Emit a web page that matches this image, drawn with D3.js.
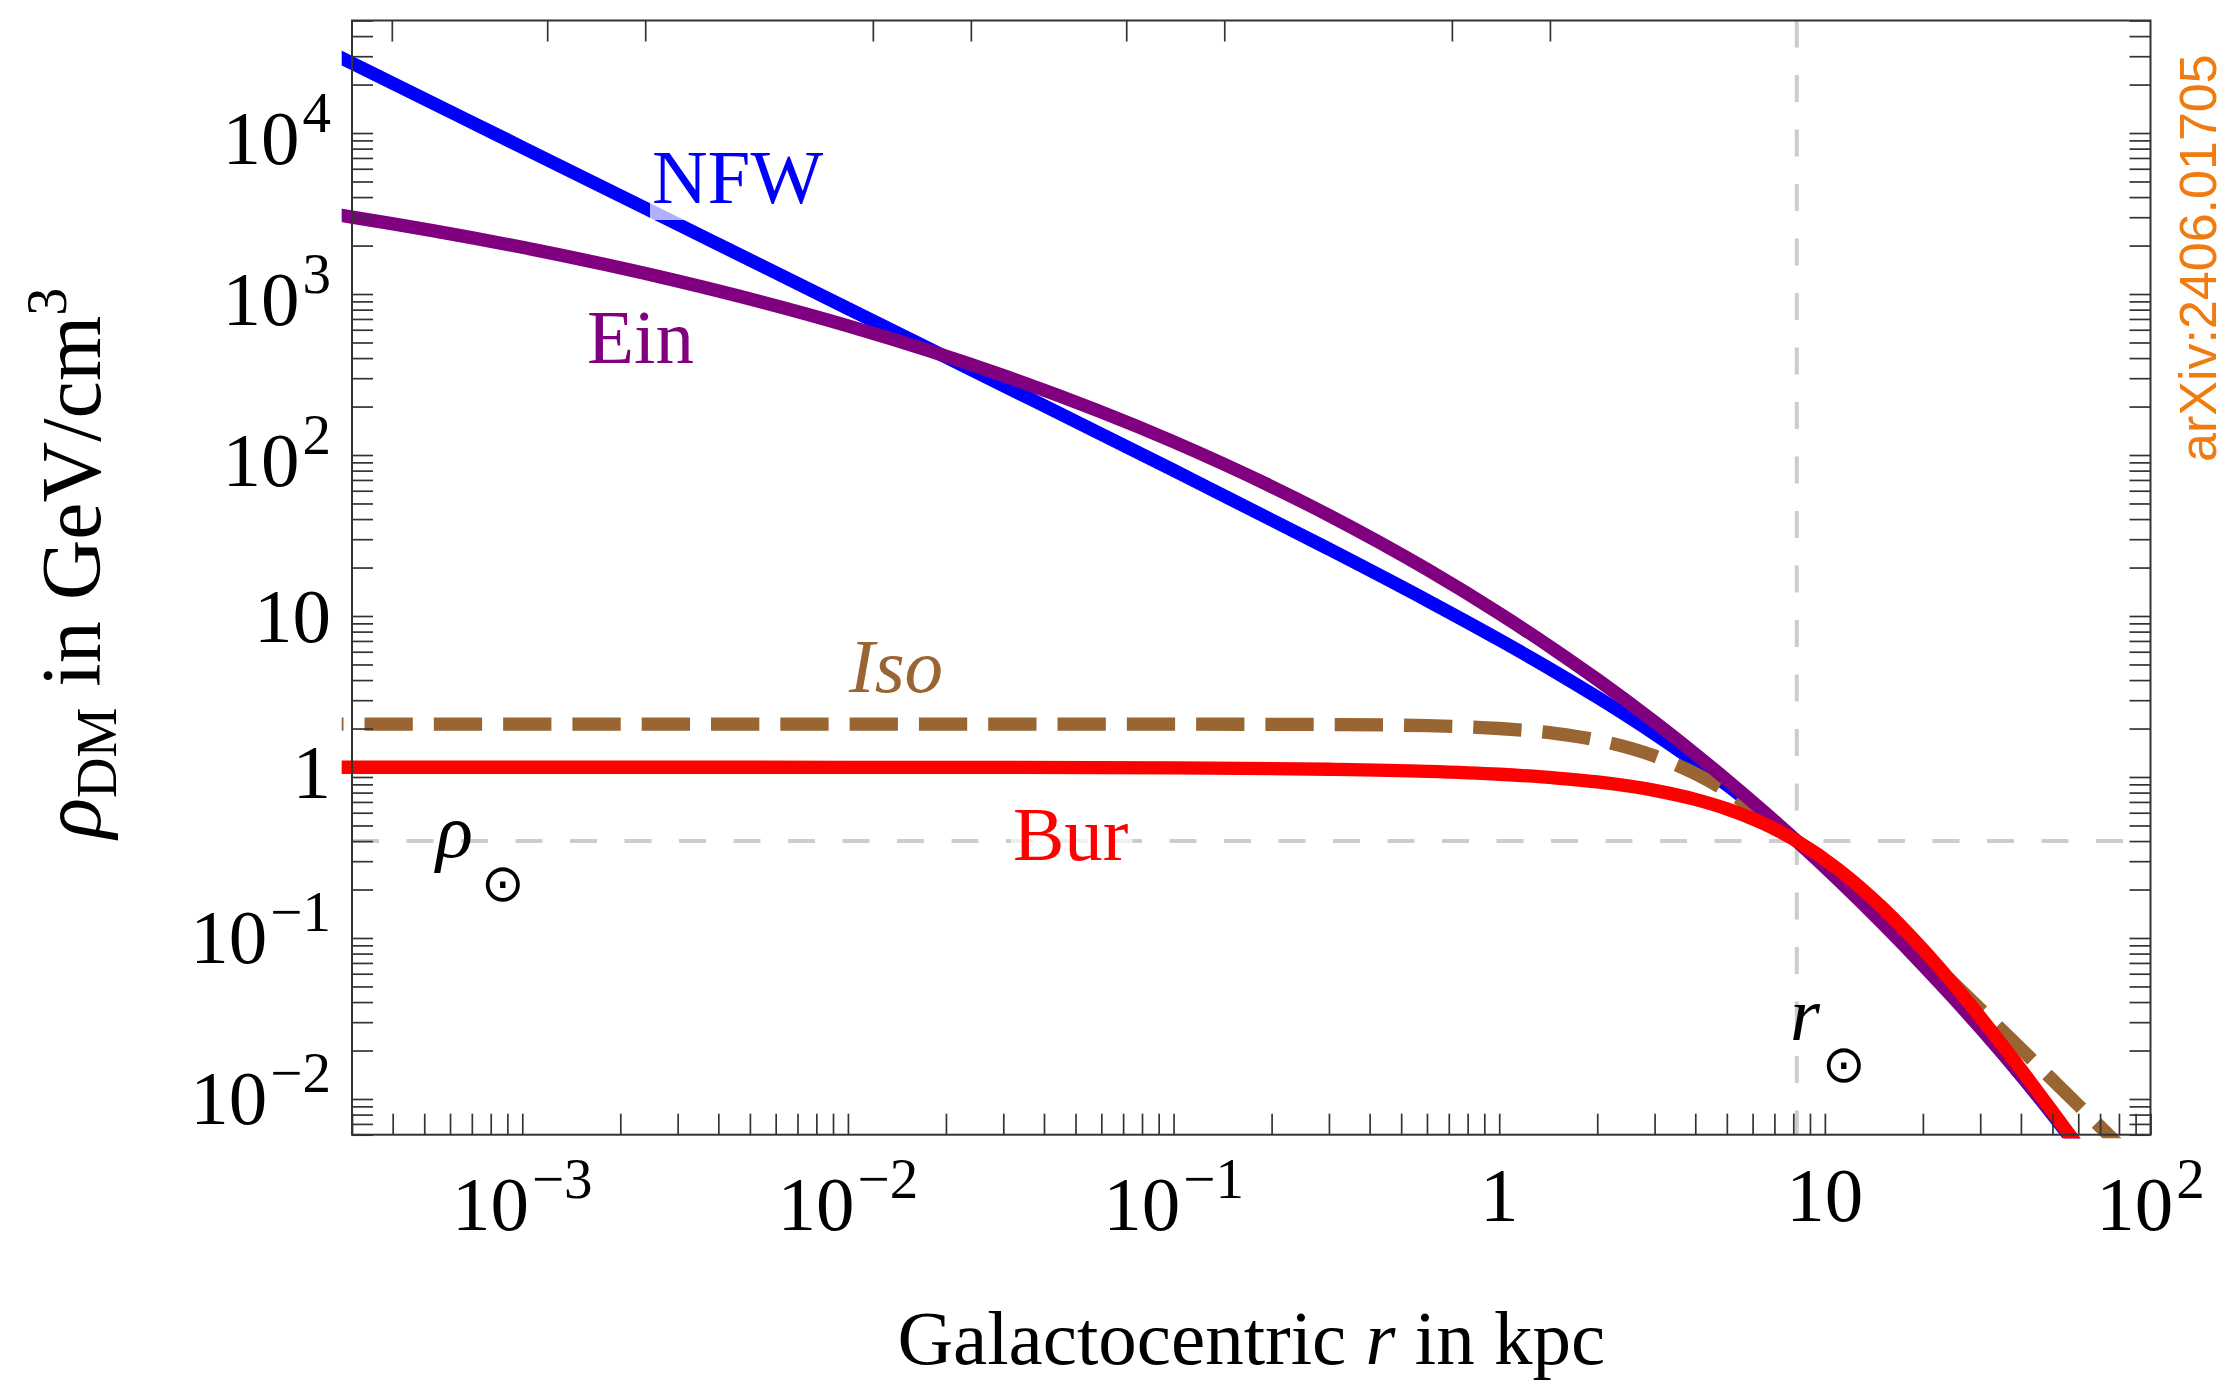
<!DOCTYPE html>
<html>
<head>
<meta charset="utf-8">
<script src="https://cdn.jsdelivr.net/npm/d3@7"></script>
<style>
  html, body { margin: 0; padding: 0; background: #ffffff; }
  svg { display: block; }
</style>
</head>
<body>
<svg id="chart" width="2230" height="1383"></svg>
<script>
// Galactocentric radius samples (kpc)
const radius = [2.5e-4, 3e-4, 1e-3, 3e-3, 0.01, 0.03, 0.1, 0.3, 0.6, 1, 1.5, 2, 3, 4, 5, 6.5, 8.2, 11, 15, 20, 25, 30, 40, 50, 60, 70, 80];

// Dark-matter density for each halo profile (GeV/cm^3)
const rhoNFW = [32600, 27170, 8149, 2716, 813.9, 270.5, 80.37, 26.06, 12.51, 7.115, 4.447, 3.133, 1.853, 1.242, 0.8926, 0.5908, 0.400, 0.2357, 0.1288, 0.07043, 0.04289, 0.02812, 0.01403, 0.0080, 0.00499, 0.00332, null];
const rhoEin = [3185, 3006, 1950, 1205, 635, 311.9, 120.9, 42.23, 19.52, 10.39, 6.051, 4.032, 2.193, 1.388, 0.958, 0.6083, 0.400, 0.2296, 0.1239, 0.06786, 0.0417, 0.02762, 0.01404, 0.008122, 0.005106, 0.00341, null];
const rhoIso = [2.13, 2.13, 2.13, 2.13, 2.13, 2.13, 2.129, 2.118, 2.082, 2.001, 1.861, 1.694, 1.349, 1.050, 0.8167, 0.573, 0.400, 0.2425, 0.1377, 0.07969, 0.0517, 0.03617, 0.0205, 0.01316, 0.00916, 0.00674, 0.00516];
const rhoBur = [1.15, 1.15, 1.15, 1.15, 1.149, 1.147, 1.139, 1.117, 1.084, 1.040, 0.9857, 0.9316, 0.8261, 0.7261, 0.6338, 0.5121, 0.400, 0.2666, 0.1549, 0.0850, 0.05065, 0.0323, 0.0153, 0.00836, 0.00505, 0.00327, null];

// Solar reference point
const rSun = 8.2;
const rhoSun = 0.4;

// Axis ranges and labelled ticks
const xDomain = [3e-4, 100];
const yDomain = [6e-3, 5e4];
const xTickValues = [1e-3, 1e-2, 1e-1, 1, 10, 100];
const xTickBase = ["10", "10", "10", "1", "10", "10"];
const xTickSup = ["\u22123", "\u22122", "\u22121", "", "", "2"];
const yTickValues = [1e-2, 1e-1, 1, 10, 100, 1e3, 1e4];
const yTickBase = ["10", "10", "1", "10", "10", "10", "10"];
const yTickSup = ["\u22122", "\u22121", "", "", "2", "3", "4"];

// Top frame ticks: angular size seen from the Sun, in degrees
const topTickDegrees = [10 / 3600, 30 / 3600, 1 / 60, 5 / 60, 10 / 60, 30 / 60, 1, 5, 10];

// Curve labels
const curveNames = ["NFW", "Ein", "Iso", "Bur"];
const curveColors = ["#0000ff", "#800080", "#996633", "#ff0000"];

// ---------------------------------------------------------------
const svg = d3.select("#chart");
const W = 2230, H = 1383;
const plot = { left: 352, right: 2150.5, top: 20.5, bottom: 1134.7 };

const x = d3.scaleLog().domain(xDomain).range([plot.left, plot.right]);
const y = d3.scaleLog().domain(yDomain).range([plot.bottom, plot.top]);

const serif = "'Liberation Serif', 'Times New Roman', Times, serif";
const FS = 77;      // main text size
const FSsup = 57;   // super/subscript size

svg.append("rect").attr("width", W).attr("height", H).attr("fill", "#ffffff");

// clip region for curves (slightly wider than the frame)
svg.append("defs").append("clipPath").attr("id", "plotClip")
  .append("rect")
  .attr("x", plot.left - 10.3).attr("y", plot.top - 10)
  .attr("width", plot.right - plot.left + 20).attr("height", plot.bottom - plot.top + 13.5);

// reference lines for the solar position
const refLine = d3.line().x(d => x(d[0])).y(d => y(d[1]));
svg.append("path")
  .attr("d", refLine([[xDomain[0], rhoSun], [xDomain[1], rhoSun]]))
  .attr("fill", "none").attr("stroke", "#cccccc").attr("stroke-width", 4)
  .attr("stroke-dasharray", "27 27.5");
svg.append("path")
  .attr("d", refLine([[rSun, yDomain[1]], [rSun, yDomain[0]]]))
  .attr("fill", "none").attr("stroke", "#cccccc").attr("stroke-width", 4)
  .attr("stroke-dasharray", "27 27.5");

// profile curves
const series = [
  { name: "NFW", values: rhoNFW, color: curveColors[0], dash: null },
  { name: "Iso", values: rhoIso, color: curveColors[2], dash: "48.3 21" },
  { name: "Ein", values: rhoEin, color: curveColors[1], dash: null },
  { name: "Bur", values: rhoBur, color: curveColors[3], dash: null }
];
const curve = d3.line()
  .defined(d => d.rho != null)
  .x(d => x(d.r)).y(d => y(d.rho))
  .curve(d3.curveMonotoneX);

const curveGroup = svg.append("g").attr("clip-path", "url(#plotClip)");
series.forEach(s => {
  const pts = radius.map((r, i) => ({ r: r, rho: s.values[i] }));
  const p = curveGroup.append("path")
    .attr("d", curve(pts))
    .attr("fill", "none")
    .attr("stroke", s.color)
    .attr("stroke-width", 13.3)
    .attr("stroke-linecap", "butt")
    .attr("stroke-linejoin", "round");
  if (s.dash) p.attr("stroke-dasharray", s.dash).attr("stroke-dashoffset", 31);
});

// frame ticks (all inward)
const minorTicks = (lo, hi) => {
  const out = [];
  for (let e = -4; e <= 5; e++) {
    for (let m = 1; m <= 9; m++) {
      const v = m * Math.pow(10, e);
      if (v >= lo * 0.9999 && v <= hi * 1.0001) out.push(v);
    }
  }
  return out;
};
const xTicksAll = minorTicks(xDomain[0], xDomain[1]);
const yTicksAll = minorTicks(yDomain[0], yDomain[1]);
const topTicks = topTickDegrees.map(d => rSun * d * Math.PI / 180);
const tickLen = 21;

function styleAxis(g) {
  g.select(".domain").remove();
  g.selectAll(".tick line").attr("stroke", "#333333").attr("stroke-width", 1.7);
  g.selectAll(".tick text").remove();
}
svg.append("g").attr("transform", `translate(0,${plot.bottom})`)
  .call(d3.axisBottom(x).tickValues(xTicksAll).tickSize(-tickLen).tickFormat(""))
  .call(styleAxis);
svg.append("g").attr("transform", `translate(0,${plot.top})`)
  .call(d3.axisTop(x).tickValues(topTicks).tickSize(-tickLen).tickFormat(""))
  .call(styleAxis);
svg.append("g").attr("transform", `translate(${plot.left},0)`)
  .call(d3.axisLeft(y).tickValues(yTicksAll).tickSize(-tickLen).tickFormat(""))
  .call(styleAxis);
svg.append("g").attr("transform", `translate(${plot.right},0)`)
  .call(d3.axisRight(y).tickValues(yTicksAll).tickSize(-tickLen).tickFormat(""))
  .call(styleAxis);

// frame
svg.append("rect")
  .attr("x", plot.left).attr("y", plot.top)
  .attr("width", plot.right - plot.left).attr("height", plot.bottom - plot.top)
  .attr("fill", "none").attr("stroke", "#333333").attr("stroke-width", 2);

// x tick labels
xTickValues.forEach((v, i) => {
  const hasSup = xTickSup[i] !== "";
  const t = svg.append("text")
    .attr("x", x(v)).attr("y", hasSup ? 1230 : 1221)
    .attr("text-anchor", "middle")
    .attr("font-family", serif).attr("font-size", FS).attr("fill", "#000");
  t.append("tspan").text(xTickBase[i]);
  if (hasSup) t.append("tspan").attr("dx", 3).attr("dy", -32).attr("font-size", FSsup).text(xTickSup[i]);
});

// y tick labels
yTickValues.forEach((v, i) => {
  const hasSup = yTickSup[i] !== "";
  let off = 26;
  if (hasSup) off = v > 1 ? 31 : 25;
  else if (v === 1) off = 21;
  const t = svg.append("text")
    .attr("x", 331).attr("y", y(v) + off)
    .attr("text-anchor", "end")
    .attr("font-family", serif).attr("font-size", FS).attr("fill", "#000");
  t.append("tspan").text(yTickBase[i]);
  if (hasSup) t.append("tspan").attr("dx", 3).attr("dy", -32).attr("font-size", FSsup).text(yTickSup[i]);
});

// axis titles
const xt = svg.append("text")
  .attr("x", (plot.left + plot.right) / 2).attr("y", 1364)
  .attr("text-anchor", "middle")
  .attr("font-family", serif).attr("font-size", FS).attr("fill", "#000");
xt.append("tspan").text("Galactocentric ");
xt.append("tspan").attr("font-style", "italic").text("r");
xt.append("tspan").text(" in kpc");

const yt = svg.append("text")
  .attr("transform", "translate(100,563) rotate(-90)")
  .attr("text-anchor", "middle")
  .attr("font-family", serif).attr("font-size", 84).attr("fill", "#000");
yt.append("tspan").attr("font-style", "italic").text("\u03C1");
yt.append("tspan").attr("dy", 16).attr("font-size", 56).text("DM");
yt.append("tspan").attr("dy", -16).text(" in GeV/cm");
yt.append("tspan").attr("dy", -34).attr("font-size", 56).text("3");

// curve labels with translucent backgrounds
const labelPos = [
  { x: 652, y: 203, italic: false },
  { x: 587, y: 363, italic: false },
  { x: 849, y: 692, italic: true },
  { x: 1013, y: 860, italic: false }
];
curveNames.forEach((name, i) => {
  const g = svg.append("g");
  const bg = g.append("rect").attr("fill", "#ffffff").attr("fill-opacity", 0.69);
  const t = g.append("text")
    .attr("x", labelPos[i].x).attr("y", labelPos[i].y)
    .attr("font-family", serif).attr("font-size", FS)
    .attr("font-style", labelPos[i].italic ? "italic" : "normal")
    .attr("fill", curveColors[i]).text(name);
  const b = t.node().getBBox();
  bg.attr("x", b.x - 2).attr("y", labelPos[i].y - 58)
    .attr("width", b.width + 6).attr("height", 75);
});

// solar position labels
const sunFont = "'DejaVu Sans', sans-serif";
const rhoLab = svg.append("text")
  .attr("x", 436).attr("y", 857)
  .attr("font-family", serif).attr("font-size", FS).attr("fill", "#000");
rhoLab.append("tspan").attr("font-style", "italic").text("\u03C1");
rhoLab.append("tspan").attr("dx", 8).attr("dy", 44)
  .attr("font-family", sunFont).attr("font-size", 52).text("\u2299");

const rLab = svg.append("text")
  .attr("x", 1790).attr("y", 1040)
  .attr("font-family", serif).attr("font-size", FS).attr("fill", "#000");
rLab.append("tspan").attr("font-style", "italic").text("r");
rLab.append("tspan").attr("dx", 2).attr("dy", 42)
  .attr("font-family", sunFont).attr("font-size", 52).text("\u2299");

// side stamp
svg.append("text")
  .attr("transform", "translate(2216,462) rotate(-90)")
  .attr("font-family", "'Liberation Sans', Arial, sans-serif")
  .attr("font-size", 52).attr("fill", "#f07c10")
  .text("arXiv:2406.01705");
</script>
</body>
</html>
